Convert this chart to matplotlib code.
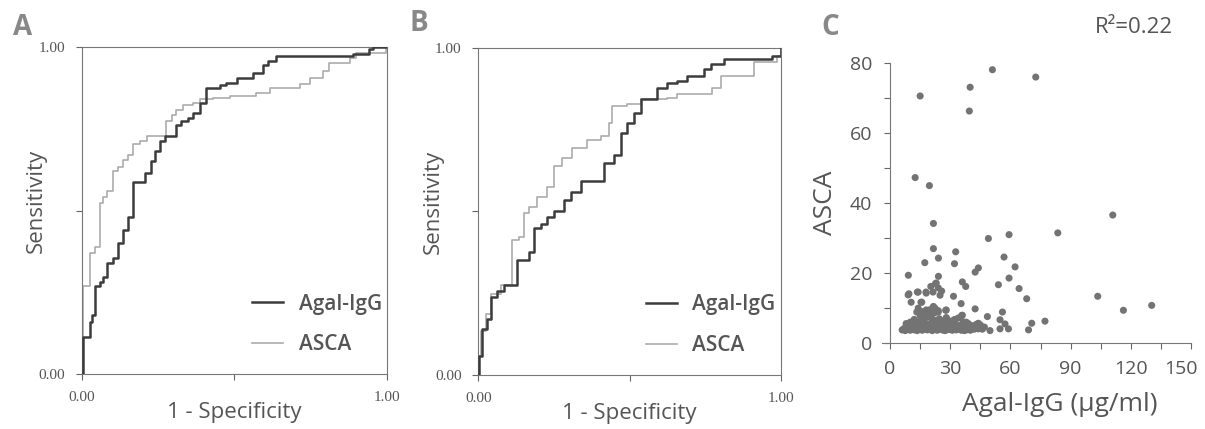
import matplotlib
matplotlib.use("Agg")
import matplotlib.pyplot as plt

# ---- ROC curve corners (1 - specificity, sensitivity) ----
a_igg_fpr = [0, 0.004, 0.026, 0.032, 0.043, 0.059, 0.070, 0.081, 0.103, 0.119, 0.135, 0.152, 0.168,
             0.206, 0.228, 0.239, 0.255, 0.272, 0.310, 0.326, 0.348, 0.365, 0.386, 0.408, 0.452,
             0.474, 0.507, 0.561, 0.594, 0.610, 0.638, 0.889, 0.943, 0.954, 1.0]
a_igg_tpr = [0, 0.114, 0.160, 0.181, 0.268, 0.283, 0.298, 0.339, 0.354, 0.400, 0.441, 0.482, 0.589,
             0.615, 0.651, 0.681, 0.712, 0.727, 0.763, 0.773, 0.783, 0.799, 0.829, 0.875, 0.883,
             0.891, 0.906, 0.921, 0.947, 0.957, 0.972, 0.978, 0.993, 1.0, 1.0]

a_asca_fpr = [0, 0.002, 0.026, 0.043, 0.059, 0.070, 0.081, 0.103, 0.119, 0.135, 0.152, 0.168, 0.190,
              0.212, 0.277, 0.294, 0.310, 0.332, 0.365, 0.386, 0.430, 0.485, 0.572, 0.616, 0.714,
              0.747, 0.790, 0.812, 0.878, 0.900, 0.998, 1.0]
a_asca_tpr = [0, 0.268, 0.370, 0.390, 0.523, 0.543, 0.559, 0.620, 0.635, 0.656, 0.671, 0.705, 0.712,
              0.729, 0.773, 0.794, 0.809, 0.824, 0.829, 0.840, 0.845, 0.850, 0.860, 0.875, 0.886,
              0.906, 0.926, 0.952, 0.967, 0.983, 1.0, 1.0]

b_igg_fpr = [0, 0.003, 0.013, 0.028, 0.041, 0.063, 0.085, 0.129, 0.167, 0.184, 0.206, 0.228, 0.250,
             0.283, 0.305, 0.338, 0.415, 0.448, 0.470, 0.492, 0.514, 0.536, 0.591, 0.624, 0.657,
             0.691, 0.746, 0.768, 0.812, 0.971, 0.999, 1.0]
b_igg_tpr = [0, 0.058, 0.140, 0.170, 0.238, 0.258, 0.274, 0.351, 0.376, 0.448, 0.462, 0.484, 0.500,
             0.535, 0.561, 0.592, 0.648, 0.674, 0.741, 0.771, 0.802, 0.843, 0.879, 0.894, 0.900,
             0.915, 0.935, 0.951, 0.966, 0.975, 0.992, 1.0]

b_asca_fpr = [0, 0.003, 0.008, 0.024, 0.041, 0.074, 0.112, 0.134, 0.151, 0.167, 0.195, 0.228, 0.250,
              0.278, 0.311, 0.360, 0.404, 0.432, 0.443, 0.492, 0.536, 0.624, 0.657, 0.773, 0.801,
              0.911, 0.988, 1.0]
b_asca_tpr = [0, 0.058, 0.135, 0.187, 0.248, 0.274, 0.412, 0.422, 0.494, 0.515, 0.545, 0.576, 0.638,
              0.664, 0.694, 0.720, 0.730, 0.771, 0.823, 0.828, 0.843, 0.848, 0.858, 0.879, 0.915,
              0.956, 0.977, 1.0]

# ---- scatter: Agal-IgG (ug/ml) vs ASCA ----
agal_igg = [15.0, 19.6, 12.5, 39.5, 39.9, 51.0, 72.6, 21.6, 111.0, 83.6, 59.3, 49.0, 21.6, 32.7,
            17.3, 24.1, 32.1, 56.8, 62.3, 44.0, 42.4, 9.1, 24.1, 59.3, 36.0, 37.7, 54.0, 64.3,
            20.3, 22.6, 9.4, 13.6, 17.9, 25.7, 24.9, 31.6, 103.5, 68.1, 10.5, 15.8, 35.4, 130.4,
            116.3, 21.6, 42.4, 27.7, 56.0, 13.3, 48.5, 77.2, 70.6, 69.0, 54.8, 57.3, 59.0, 54.8,
            49.8, 35.7, 32.4, 9.0, 14.0, 18.0, 21.4, 24.0, 23.0, 15.4, 14.0, 18.0, 20.4, 22.4,
            24.0, 28.0, 28.0,
            6, 7, 7.5, 8, 8.5, 9, 9.5, 10, 10.5, 11, 11.5, 12, 12.5, 13, 13.5, 14, 14.5, 15, 15.5,
            16, 16.5, 17, 17.5, 18, 18.5, 19, 19.5, 20, 20.5, 21, 21.5, 22, 22.5, 23, 23.5, 24,
            24.5, 25, 25.5, 26, 26.5, 27, 27.5, 28, 28.5, 29, 29.5, 30, 30.5, 31, 31.5, 32, 32.5,
            33, 33.5, 34, 34.5, 35, 35.5, 36, 36.5, 37, 37.5, 38, 38.5, 39, 40, 41, 42, 43, 44,
            45, 47,
            8, 10, 12, 13, 15, 16, 17, 18, 19, 20, 21, 22, 23, 24, 25, 26, 27, 28, 30, 32, 33, 35,
            36, 37, 38, 39, 40, 42, 44, 46]
asca = [70.6, 45.0, 47.3, 66.3, 73.1, 78.1, 76.0, 34.2, 36.6, 31.5, 31.0, 29.9, 27.0, 26.1,
        23.0, 24.3, 22.7, 24.6, 21.8, 21.5, 20.3, 19.4, 19.1, 18.6, 17.5, 16.2, 16.7, 15.6,
        16.2, 17.0, 14.1, 14.6, 14.6, 14.9, 13.7, 13.4, 13.4, 12.7, 11.7, 11.7, 11.3, 10.8,
        9.4, 10.5, 9.8, 9.4, 8.9, 8.9, 7.6, 6.3, 5.7, 3.8, 6.7, 5.5, 4.1, 4.1,
        3.6, 7.9, 6.8, 13.8, 14.6, 14.3, 14.6, 15.8, 17.2, 11.7, 10.0, 9.5, 8.6, 10.0,
        8.9, 9.5, 7.2,
        3.8, 4.2, 3.6, 4.8, 3.9, 4.4, 5.2, 3.7, 4.6, 4.0, 5.5, 3.8, 4.3, 5.0, 3.6, 4.7, 6.2,
        4.0, 5.3, 3.7, 4.5, 6.8, 4.1, 5.6, 3.8, 4.9, 7.5, 4.2, 5.8, 3.6, 4.6, 6.5, 4.0, 5.2,
        3.7, 4.8, 7.0, 4.1, 5.5, 3.8, 4.4, 6.0, 3.6, 4.9, 4.2, 5.4, 3.9, 4.5, 6.3, 3.7, 4.8,
        4.1, 5.6, 3.8, 4.6, 7.2, 4.0, 5.1, 3.7, 4.4, 6.1, 4.0, 5.3, 3.8, 4.7, 5.6, 4.2, 5.0,
        4.4, 5.4, 4.1, 5.2, 4.6,
        5.6, 6.0, 6.8, 4.4, 7.8, 9.0, 5.4, 8.2, 3.9, 9.6, 6.9, 8.6, 4.3, 9.3, 6.5, 5.0, 3.7,
        7.3, 5.1, 6.7, 4.0, 4.2, 8.0, 3.6, 6.0, 4.1, 3.7, 4.0, 5.7, 4.0]
x_ticks = [0, 30, 60, 90, 120, 150]
y_ticks = [0, 20, 40, 60, 80]

TXT = '#555555'
SANS = ['Open Sans', 'DejaVu Sans']
SERIF = ['Liberation Serif', 'DejaVu Serif']

fig = plt.figure(figsize=(12.05, 4.29), dpi=100)


def roc_panel(rect, letter, letter_xy, igg, asc):
    ax = fig.add_axes(rect)
    ax.plot(asc[0], asc[1], drawstyle='steps-post', color='#ababab', lw=1.2, label='ASCA', zorder=2)
    ax.plot(igg[0], igg[1], drawstyle='steps-post', color='#3c3c3c', lw=1.8, label='Agal-IgG', zorder=3)
    ax.set_xlim(0, 1)
    ax.set_ylim(0, 1)
    ax.set_xticks([0, 0.5, 1])
    ax.set_yticks([0, 0.5, 1])
    ax.set_xticklabels(['0.00', '', '1.00'], family=SERIF, fontsize=11, color=TXT)
    ax.set_yticklabels(['0.00', '', '1.00'], family=SERIF, fontsize=11, color=TXT)
    ax.tick_params(direction='out', length=4, width=0.8, color='#666666', pad=8)
    for s in ax.spines.values():
        s.set_color('#777777')
        s.set_linewidth(0.8)
    ax.set_xlabel('1 - Specificity', family=SANS, fontsize=16, color=TXT)
    ax.xaxis.set_label_coords(0.5, -0.085)
    ax.set_ylabel('Sensitivity', family=SANS, fontsize=16, color=TXT)
    ax.yaxis.set_label_coords(-0.115, 0.53)
    h, l = ax.get_legend_handles_labels()
    leg = ax.legend(h[::-1], l[::-1], loc='lower right', bbox_to_anchor=(1.045, 0.0), frameon=False,
                    handlelength=1.5, handletextpad=0.75, labelspacing=0.95,
                    prop={'family': SANS, 'size': 15, 'weight': 'semibold'})
    for t in leg.get_texts():
        t.set_color(TXT)
    fig.text(letter_xy[0], letter_xy[1], letter, family=SANS, fontsize=20, fontweight='bold',
             color='#888888', ha='left', va='center')
    return ax


roc_panel([0.068, 0.128, 0.253, 0.762], 'A', (0.011, 0.935), (a_igg_fpr, a_igg_tpr), (a_asca_fpr, a_asca_tpr))
roc_panel([0.397, 0.126, 0.251, 0.762], 'B', (0.340, 0.945), (b_igg_fpr, b_igg_tpr), (b_asca_fpr, b_asca_tpr))

# ---- panel C ----
ax = fig.add_axes([0.732, 0.200, 0.2564, 0.653])
ax.scatter(agal_igg, asca, s=26, color='#737373', edgecolors='none', zorder=3, clip_on=False)
ax.set_xlim(-4, 150)
ax.set_ylim(0, 80)
ax.spines['left'].set_position(('data', 0))
ax.set_xticks(x_ticks)
ax.set_xticklabels([str(v) for v in x_ticks[:-1]] + [''])
ax.set_xticks(range(15, 150, 30), minor=True)
ax.set_yticks(y_ticks)
ax.set_yticks(range(10, 80, 20), minor=True)
for lab in ax.get_xticklabels() + ax.get_yticklabels():
    lab.set_family(SANS)
    lab.set_fontsize(14)
    lab.set_color(TXT)
ax.tick_params(which='both', direction='out', length=4, width=0.8, color='#666666')
ax.tick_params(axis='x', pad=8)
ax.tick_params(axis='y', pad=9)
# last x label sits a little inward, as in the source figure
ax.annotate(str(x_ticks[-1]), xy=(x_ticks[-1], 0), xycoords='data', xytext=(-7, -12),
            textcoords='offset points', ha='center', va='top', family=SANS, fontsize=14, color=TXT)
ax.spines['top'].set_visible(False)
ax.spines['right'].set_visible(False)
ax.spines['left'].set_color('#777777')
ax.spines['bottom'].set_color('#777777')
ax.set_xlabel('Agal-IgG (\u03bcg/ml)', family=SANS, fontsize=19, color=TXT)
ax.xaxis.set_label_coords(0.575, -0.175)
ax.set_ylabel('ASCA', family=SANS, fontsize=19, color=TXT, labelpad=8)
fig.text(0.682, 0.935, 'C', family=SANS, fontsize=20, fontweight='bold', color='#888888',
         ha='left', va='center')
fig.text(0.941, 0.935, 'R\u00b2=0.22', family=SANS, fontsize=16, color=TXT, ha='center', va='center')

fig.savefig('out.png', dpi=100)
